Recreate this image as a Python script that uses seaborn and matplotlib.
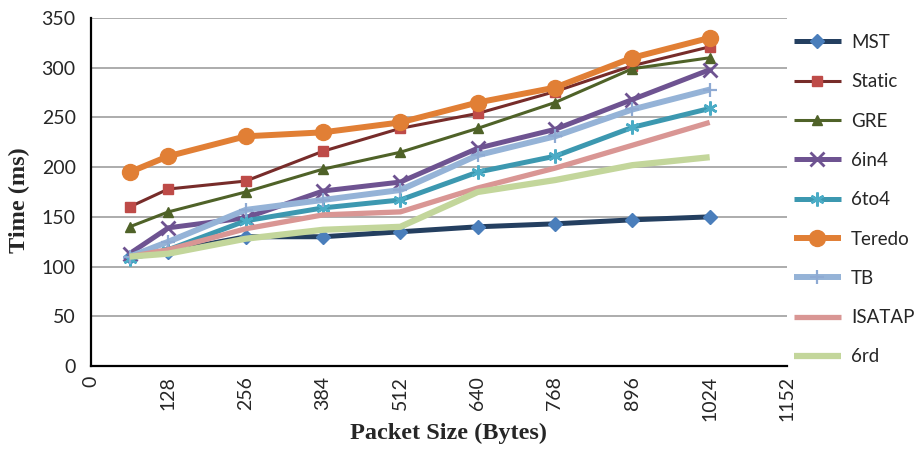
import matplotlib
matplotlib.use("Agg")
import matplotlib.pyplot as plt
import seaborn as sns
import pandas as pd

# Packet sizes (bytes) and measured delay (ms) per transition mechanism
packet_sizes = [64, 128, 256, 384, 512, 640, 768, 896, 1024]

mst = [110, 115, 130, 130, 135, 140, 143, 147, 150]
static = [160, 178, 186, 216, 239, 254, 276, 302, 321]
gre = [140, 155, 175, 198, 215, 239, 265, 299, 310]
six_in_four = [113, 139, 149, 176, 185, 219, 238, 268, 298]
six_to_four = [108, 117, 146, 159, 167, 195, 211, 240, 259]
teredo = [195, 211, 231, 235, 245, 265, 280, 310, 330]
tb = [110, 125, 157, 167, 177, 212, 231, 258, 278]
isatap = [110, 117, 138, 152, 155, 179, 199, 222, 245]
six_rd = [110, 113, 128, 137, 140, 175, 187, 202, 210]

series_names = ["MST", "Static", "GRE", "6in4", "6to4", "Teredo", "TB", "ISATAP", "6rd"]
series_values = [mst, static, gre, six_in_four, six_to_four, teredo, tb, isatap, six_rd]

x_ticks = [0, 128, 256, 384, 512, 640, 768, 896, 1024, 1152]
y_ticks = [0, 50, 100, 150, 200, 250, 300, 350]

styles = {
    "MST":    dict(color="#243F60", lw=3.6, marker="D", ms=7, mfc="#4A7EBB", mec="#4A7EBB", mew=1),
    "Static": dict(color="#772C2A", lw=2.2, marker="s", ms=6.5, mfc="#BE4B48", mec="#BE4B48", mew=1),
    "GRE":    dict(color="#4F6228", lw=2.2, marker="^", ms=7.5, mfc="#4F6228", mec="#4F6228", mew=1),
    "6in4":   dict(color="#6E5391", lw=3.6, marker="x", ms=10, mfc="#6E5391", mec="#6E5391", mew=2),
    "6to4":   dict(color="#3C98B0", lw=3.6, marker=(6, 2, 0), ms=10, mfc="#4BACC6", mec="#4BACC6", mew=1.8),
    "Teredo": dict(color="#E17F35", lw=4.3, marker="o", ms=11.5, mfc="#E17F35", mec="#E17F35", mew=1),
    "TB":     dict(color="#95B3D7", lw=4.3, marker="+", ms=10, mfc="#8EAAD3", mec="#8EAAD3", mew=1.6),
    "ISATAP": dict(color="#D99694", lw=3.8, marker=None, ms=0, mfc="#D99694", mec="#D99694", mew=0),
    "6rd":    dict(color="#C3D69B", lw=4.5, marker=None, ms=0, mfc="#C3D69B", mec="#C3D69B", mew=0),
}

sns.set_style("white")
plt.rcParams["font.family"] = ["Lato", "DejaVu Sans"]

fig = plt.figure(figsize=(9.2, 4.49), dpi=100)
ax = fig.add_axes([91 / 920, 1 - 366 / 449, (787 - 91) / 920, (366 - 18) / 449])

for name, values in zip(series_names, series_values):
    st = styles[name]
    df = pd.DataFrame({"size": packet_sizes, "time": values})
    kw = dict(color=st["color"], linewidth=st["lw"], solid_capstyle="butt",
              solid_joinstyle="round")
    if st["marker"] is not None:
        kw.update(marker=st["marker"], markersize=st["ms"], markerfacecolor=st["mfc"],
                  markeredgecolor=st["mec"], markeredgewidth=st["mew"])
    sns.lineplot(data=df, x="size", y="time", ax=ax, errorbar=None, legend=False,
                 label=name, **kw)

ax.set_xlim(0, 1152)
ax.set_ylim(0, 350)
ax.set_xticks(x_ticks)
ax.set_yticks(y_ticks)
ax.set_xticklabels([str(t) for t in x_ticks], rotation=90, fontsize=14, va="top")
ax.set_yticklabels([str(t) for t in y_ticks], fontsize=14)
ax.tick_params(axis="both", length=0)
ax.tick_params(axis="y", pad=11)
ax.tick_params(axis="x", pad=7)

ax.yaxis.grid(True, color="#A6A6A6", linewidth=1.3)
ax.xaxis.grid(False)
ax.set_axisbelow(True)
for side in ("top", "right"):
    ax.spines[side].set_visible(False)
for side in ("left", "bottom"):
    ax.spines[side].set_color("black")
    ax.spines[side].set_linewidth(1.6)

ax.set_xlabel("")
ax.set_ylabel("")
fig.text(449 / 920, 1 - 433 / 449, "Packet Size (Bytes)", ha="center", va="center",
         fontsize=17.5, fontweight="bold", family="Liberation Serif")
fig.text(19 / 920, 1 - 200 / 449, "Time (ms)", ha="center", va="center", rotation=90,
         fontsize=17.5, fontweight="bold", family="Liberation Serif")

handles = ax.get_lines()[:len(series_names)]
fig.legend(handles, series_names, loc="upper left",
           bbox_to_anchor=(794 / 920, 1 - 34 / 449), frameon=False, fontsize=13.5,
           handlelength=2.5, handletextpad=0.55, labelspacing=1.19, borderpad=0,
           borderaxespad=0)

fig.savefig("out.png", dpi=100)
